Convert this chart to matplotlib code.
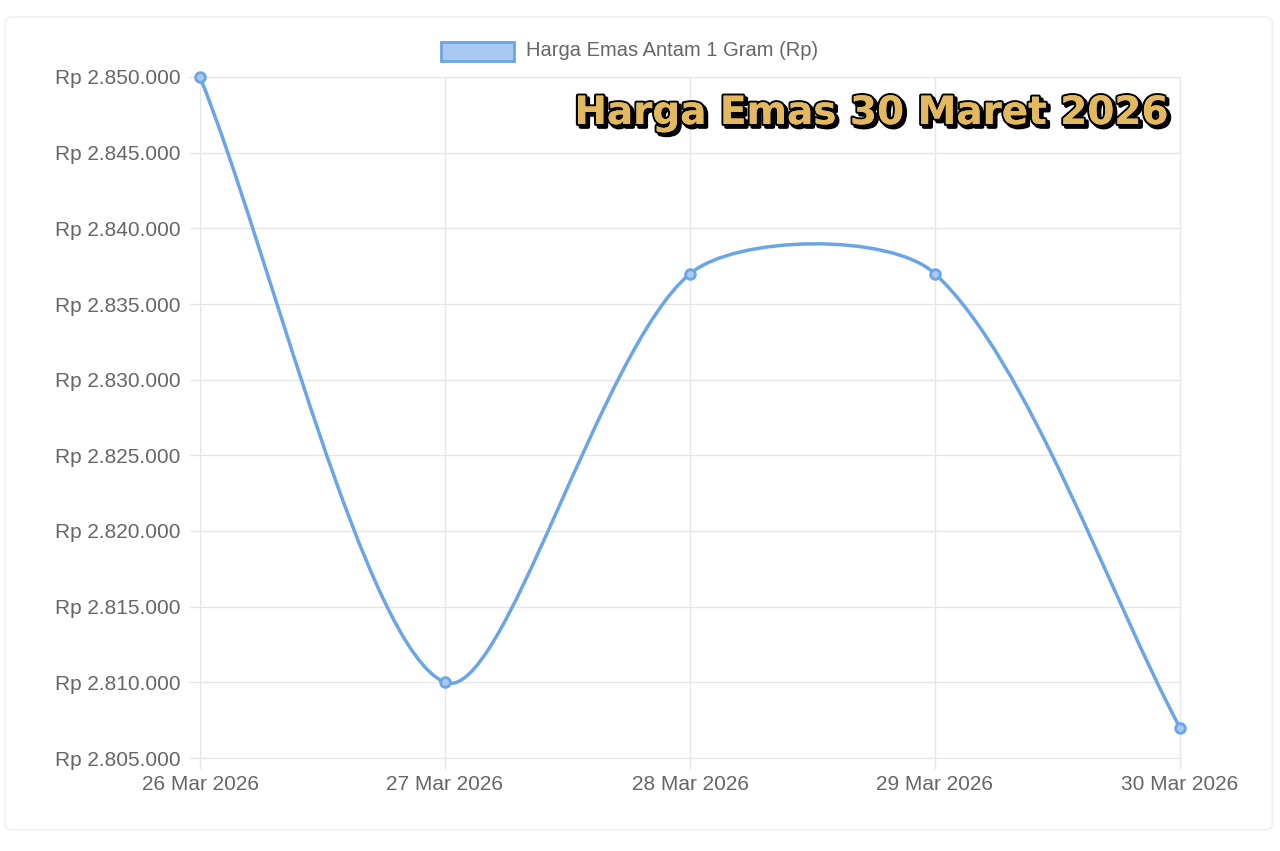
import matplotlib
matplotlib.use("Agg")
import matplotlib.pyplot as plt
import numpy as np
from matplotlib.path import Path
from matplotlib.patches import PathPatch, Rectangle, FancyBboxPatch
import matplotlib.patheffects as pe

plt.rcParams['font.family'] = ['Liberation Sans', 'DejaVu Sans']

dates = ["26 Mar 2026", "27 Mar 2026", "28 Mar 2026", "29 Mar 2026", "30 Mar 2026"]
prices = [2850000, 2810000, 2837000, 2837000, 2807000]
yticks = list(range(2805000, 2850001, 5000))
series_label = "Harga Emas Antam 1 Gram (Rp)"
title = "Harga Emas 30 Maret 2026"

fig = plt.figure(figsize=(12.8, 8.51), dpi=100)
fig.patch.set_facecolor("white")
card = FancyBboxPatch((0.004, 0.025), 0.99, 0.955, boxstyle="round,pad=0,rounding_size=0.006",
                      transform=fig.transFigure, fc="white", ec="#eeeeee", lw=1, zorder=-10)
fig.add_artist(card)
ax = fig.add_axes([200/1280, 1-758/851, 980/1280, 681/851])
ax.set_facecolor("none")
x = np.arange(len(prices))
ax.set_xlim(0, len(prices)-1)
ax.set_ylim(yticks[0], yticks[-1])

# Chart.js-style spline computed in pixel space
sx, sy = 980/(len(prices)-1), 681/(yticks[-1]-yticks[0])
P = np.column_stack([x*sx, np.array(prices)*sy])
t = 0.28
cps = []
for i in range(len(P)):
    prev = P[max(i-1, 0)]; cur = P[i]; nxt = P[min(i+1, len(P)-1)]
    d01 = np.linalg.norm(cur-prev); d12 = np.linalg.norm(nxt-cur)
    tot = d01+d12
    s01 = d01/tot if tot else 0; s12 = d12/tot if tot else 0
    cps.append((cur - t*s01*(nxt-prev), cur + t*s12*(nxt-prev)))
verts = [P[0]]; codes = [Path.MOVETO]
for i in range(len(P)-1):
    verts += [cps[i][1], cps[i+1][0], P[i+1]]; codes += [Path.CURVE4]*3
verts = np.array(verts)
verts[:, 0] /= sx; verts[:, 1] /= sy
ax.add_patch(PathPatch(Path(verts, codes), fc="none", ec="#6aa5e8", lw=2.5, clip_on=False, zorder=3))
ax.plot(x, prices, "o", ms=7, mfc="#a9c9f0", mec="#6aa5e8", mew=2, clip_on=False, zorder=4)

ax.set_xticks(x, dates)
ax.set_yticks(yticks, [f"Rp {v:,}".replace(",", ".") for v in yticks])
ax.grid(color="#e6e6e6", lw=1)
for s in ax.spines.values():
    s.set_color("#e6e6e6")
ax.tick_params(colors="#666666", labelsize=15, length=8, width=1)
ax.tick_params(axis="x", pad=4, color="#e6e6e6")
ax.tick_params(axis="y", color="#e6e6e6", pad=6)
for l in ax.get_xticklabels() + ax.get_yticklabels():
    l.set_color("#666666")

fig.add_artist(Rectangle((441/1280, 1-61/851), 73/1280, 19/851, transform=fig.transFigure,
                         fc="#a9c9f0", ec="#6aa5e8", lw=2))
fig.text(526/1280, 1-51/851, series_label, color="#666666", fontsize=14.5, va="center", ha="left")

fig.text(1168/1280, 1-113/851, title, ha="right", va="center", fontsize=28, fontweight="bold",
         color="#e2b95f", family=["DejaVu Sans"],
         path_effects=[pe.SimpleLineShadow(offset=(2, -2), shadow_color="black", alpha=1, linewidth=3),
                       pe.withStroke(linewidth=3, foreground="black"),
                       pe.Normal()])
fig.savefig("out.png", dpi=100)
